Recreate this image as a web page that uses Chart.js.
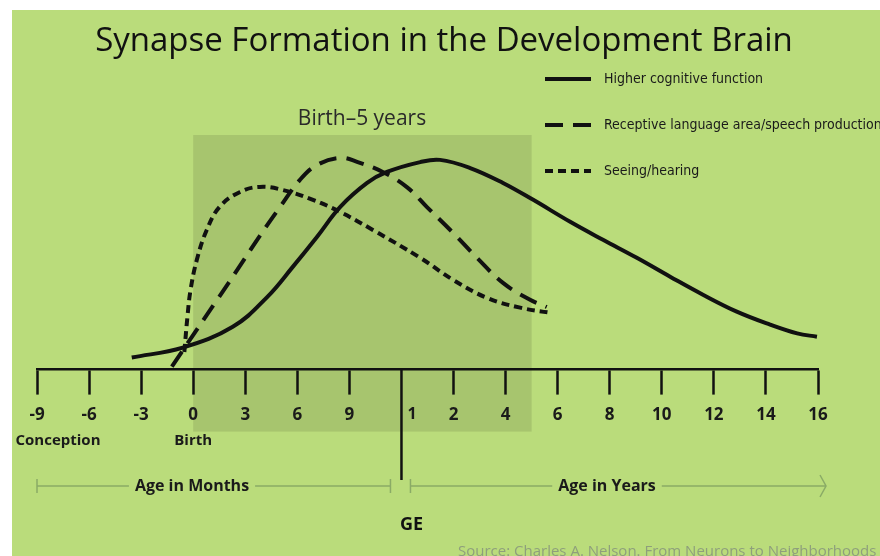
<!DOCTYPE html>
<html>
<head>
<meta charset="utf-8">
<title>Synapse Formation in the Development Brain</title>
<script src="https://cdn.jsdelivr.net/npm/chart.js@4.4.0/dist/chart.umd.min.js"></script>
<style>
  html, body { margin: 0; padding: 0; background: #fff; }
</style>
</head>
<body>
<canvas id="chart" width="880" height="556"></canvas>
<script>
// Axis slots 0..15 are evenly spaced: months before the GE mark, years after it
const tickLabels = ['-9', '-6', '-3', '0', '3', '6', '9', '', '2', '4', '6', '8', '10', '12', '14', '16'];
const geSlot = 7;          // where months switch to years ("1" sits right of it)
const shadeFrom = 3;       // birth
const shadeTo = 9.5;       // 5 years

const cognitiveX = [1.82, 2.80, 3.76, 4.42, 4.92, 5.38, 5.82, 6.34, 6.72, 7.36, 7.74, 8.32, 8.95, 9.53, 10.24, 10.87, 11.52, 12.16, 12.79, 13.44, 14.08, 14.60, 14.98];
const cognitiveY = [5.5, 10, 19.5, 33, 47, 60.5, 74, 85, 90, 94.5, 95.5, 91.8, 85, 77.3, 67.3, 59.1, 50.9, 42.3, 34.1, 26.4, 20.5, 16.5, 15];

const languageX = [2.59, 3.07, 3.46, 3.90, 4.28, 4.67, 5.05, 5.38, 5.82, 6.16, 6.64, 7.11, 7.49, 7.99, 8.45, 8.95, 9.47, 9.79];
const languageY = [1.4, 18.2, 31.8, 47.3, 60.9, 74.1, 86.4, 93.2, 96.4, 94.5, 90, 83, 74, 62.3, 50.9, 39.5, 31.8, 28.5];

const seeingX = [2.83, 2.89, 2.95, 3.07, 3.26, 3.51, 3.90, 4.28, 4.72, 5.30, 5.82, 6.45, 7.36, 7.99, 8.64, 9.28, 9.85];
const seeingY = [8, 24.2, 36.4, 50, 63.6, 74.2, 80.9, 83.2, 81.8, 77.3, 71.8, 63.6, 50.9, 40.9, 32.7, 28.2, 25.9];

const seriesNames = ['Higher cognitive function', 'Receptive language area/speech production', 'Seeing/hearing'];
const seriesDash = [[], [18, 10], [8, 5]];

const GREEN = '#badc7b';
const SHADE = '#a7c56e';
const INK = '#111';

function toPoints(xs, ys) {
    return xs.map((v, i) => ({ x: v, y: ys[i] }));
}

function bar(ctx, x0, x1, y, label, mid, arrow) {
    ctx.font = 'bold 16px "Open Sans", sans-serif';
    const w = ctx.measureText(label).width;
    ctx.strokeStyle = '#8aab66';
    ctx.lineWidth = 1.5;
    ctx.beginPath();
    ctx.moveTo(x0, y); ctx.lineTo(mid - w / 2 - 6, y);
    ctx.moveTo(mid + w / 2 + 6, y); ctx.lineTo(x1, y);
    ctx.moveTo(x0, y - 7); ctx.lineTo(x0, y + 7);
    if (arrow) {
        ctx.moveTo(x1 - 6, y - 11); ctx.lineTo(x1, y); ctx.lineTo(x1 - 6, y + 11);
    } else {
        ctx.moveTo(x1, y - 7); ctx.lineTo(x1, y + 7);
    }
    ctx.stroke();
    ctx.fillStyle = '#1a1a1a';
    ctx.textAlign = 'center';
    ctx.textBaseline = 'middle';
    ctx.fillText(label, mid, y);
}

const decor = {
    id: 'decor',
    beforeDraw(chart) {
        const { ctx, chartArea } = chart;
        const x = chart.scales.x;
        ctx.save();
        ctx.fillStyle = '#fff';
        ctx.fillRect(0, 0, chart.width, chart.height);
        ctx.fillStyle = GREEN;
        ctx.fillRect(12, 10, chart.width - 12, chart.height - 10);
        const x0 = x.getPixelForValue(shadeFrom);
        const x1 = x.getPixelForValue(shadeTo);
        ctx.fillStyle = SHADE;
        ctx.fillRect(x0, chartArea.top - 15, x1 - x0, chartArea.bottom + 62 - (chartArea.top - 15));
        ctx.restore();
    },
    afterDraw(chart) {
        const { ctx, chartArea } = chart;
        const x = chart.scales.x;
        const base = chartArea.bottom;
        const geX = x.getPixelForValue(geSlot);
        ctx.save();

        // title
        ctx.fillStyle = '#111';
        ctx.font = '33px "Open Sans", sans-serif';
        ctx.textAlign = 'center';
        ctx.textBaseline = 'alphabetic';
        ctx.fillText('Synapse Formation in the Development Brain', 444, 51);

        // legend
        ctx.font = '14px "Liberation Sans Narrow", "DejaVu Sans Condensed", sans-serif';
        ctx.textAlign = 'left';
        ctx.textBaseline = 'middle';
        seriesNames.forEach((name, i) => {
            const y = 79 + i * 46;
            ctx.strokeStyle = INK;
            ctx.lineWidth = 4;
            ctx.setLineDash(seriesDash[i]);
            ctx.beginPath();
            ctx.moveTo(545, y);
            ctx.lineTo(591, y);
            ctx.stroke();
            ctx.setLineDash([]);
            ctx.fillStyle = '#1a1a1a';
            ctx.fillText(name, 604, y);
        });

        // window label
        ctx.fillStyle = '#2a2a2a';
        ctx.font = '21px "Open Sans", sans-serif';
        ctx.textAlign = 'center';
        ctx.fillText('Birth\u20135 years', 362, 119);

        // GE divider
        ctx.strokeStyle = INK;
        ctx.lineWidth = 2.5;
        ctx.beginPath();
        ctx.moveTo(geX, base);
        ctx.lineTo(geX, 480);
        ctx.stroke();

        ctx.fillStyle = '#1a1a1a';
        ctx.font = 'bold 16px "Open Sans", sans-serif';
        ctx.textAlign = 'left';
        ctx.fillText('1', geX + 6, 414);

        ctx.font = 'bold 15px "Open Sans", sans-serif';
        ctx.textAlign = 'center';
        ctx.fillText('Conception', 58, 441);
        ctx.fillText('Birth', x.getPixelForValue(shadeFrom), 441);

        bar(ctx, x.getPixelForValue(0), geX - 11, 486, 'Age in Months', 192, false);
        bar(ctx, geX + 9, 826, 486, 'Age in Years', 607, true);

        ctx.fillStyle = '#111';
        ctx.font = 'bold 18px "Open Sans", sans-serif';
        ctx.textAlign = 'center';
        ctx.fillText('GE', geX + 10, 525);

        ctx.fillStyle = '#8e9f7c';
        ctx.font = '15px "Open Sans", sans-serif';
        ctx.textAlign = 'left';
        ctx.textBaseline = 'alphabetic';
        ctx.fillText('Source: Charles A. Nelson. From Neurons to Neighborhoods', 458, 556);

        ctx.restore();
    }
};

const lineStyle = (dash) => ({
    borderColor: INK,
    borderWidth: 4,
    borderDash: dash,
    pointRadius: 0,
    fill: false,
    tension: 0.4,
    clip: false
});

new Chart(document.getElementById('chart'), {
    type: 'line',
    data: {
        datasets: [
            { label: seriesNames[0], data: toPoints(cognitiveX, cognitiveY), ...lineStyle(seriesDash[0]) },
            { label: seriesNames[1], data: toPoints(languageX, languageY), ...lineStyle(seriesDash[1]) },
            { label: seriesNames[2], data: toPoints(seeingX, seeingY), ...lineStyle(seriesDash[2]) }
        ]
    },
    options: {
        responsive: false,
        animation: false,
        layout: { padding: { left: 37, right: 62, top: 150, bottom: 121 } },
        plugins: {
            legend: { display: false },
            tooltip: { enabled: false }
        },
        scales: {
            x: {
                type: 'linear',
                min: 0,
                max: tickLabels.length - 1,
                border: { display: true, color: INK, width: 2.5 },
                grid: {
                    drawOnChartArea: false,
                    drawTicks: true,
                    tickLength: 25,
                    tickWidth: 2.5,
                    tickColor: (c) => (c.tick && c.tick.value === geSlot ? 'rgba(0,0,0,0)' : INK)
                },
                ticks: {
                    stepSize: 1,
                    autoSkip: false,
                    maxRotation: 0,
                    padding: 10,
                    color: '#1a1a1a',
                    font: { family: '"Open Sans", sans-serif', size: 17, weight: 'bold' },
                    callback: (v) => tickLabels[v]
                }
            },
            y: { display: false, min: 0, max: 100 }
        }
    },
    plugins: [decor]
});
</script>
</body>
</html>
